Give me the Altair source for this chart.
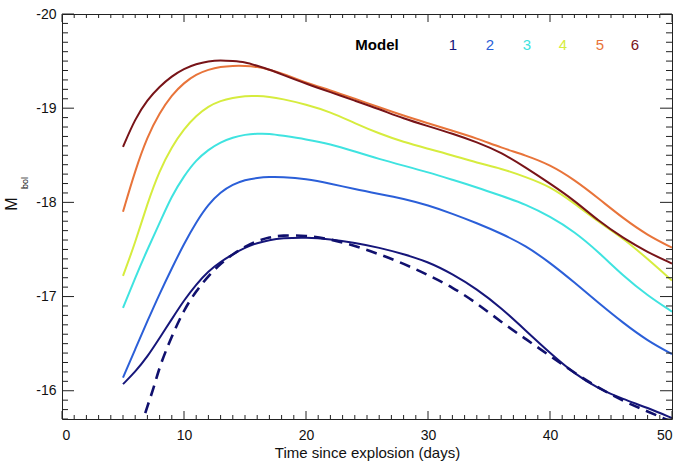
import altair as alt
import pandas as pd
import numpy as np

# ---- data ----
days = [5, 6, 7, 8, 9, 10, 11, 12, 13, 14, 15, 16, 17, 18, 20, 22, 24, 26, 28, 30,
        32, 34, 36, 38, 40, 42, 44, 46, 48, 50]
model1 = [-16.07, -16.20, -16.36, -16.56, -16.76, -16.96, -17.13, -17.27, -17.37, -17.45,
          -17.52, -17.57, -17.60, -17.62, -17.63, -17.61, -17.57, -17.52, -17.45, -17.37,
          -17.24, -17.08, -16.88, -16.64, -16.40, -16.18, -16.02, -15.91, -15.82, -15.71]
model2 = [-16.14, -16.44, -16.74, -17.03, -17.30, -17.56, -17.79, -17.98, -18.11, -18.19,
          -18.24, -18.26, -18.27, -18.27, -18.25, -18.20, -18.14, -18.09, -18.04, -17.97,
          -17.88, -17.78, -17.67, -17.54, -17.36, -17.15, -16.93, -16.72, -16.53, -16.39]
model3 = [-16.88, -17.20, -17.50, -17.78, -18.07, -18.28, -18.45, -18.56, -18.64, -18.69,
          -18.72, -18.73, -18.73, -18.71, -18.67, -18.62, -18.54, -18.46, -18.39, -18.32,
          -18.24, -18.16, -18.07, -17.98, -17.85, -17.69, -17.47, -17.22, -17.01, -16.84]
model4 = [-17.22, -17.57, -17.99, -18.34, -18.59, -18.78, -18.92, -19.02, -19.08, -19.11,
          -19.13, -19.13, -19.12, -19.10, -19.04, -18.96, -18.84, -18.73, -18.64, -18.57,
          -18.50, -18.42, -18.36, -18.27, -18.17, -17.99, -17.79, -17.62, -17.40, -17.17]
model5 = [-17.90, -18.34, -18.70, -18.95, -19.14, -19.27, -19.36, -19.41, -19.44, -19.45,
          -19.45, -19.44, -19.41, -19.37, -19.27, -19.19, -19.10, -19.01, -18.92, -18.84,
          -18.76, -18.68, -18.58, -18.50, -18.40, -18.24, -18.04, -17.83, -17.65, -17.52]
model6 = [-18.59, -18.89, -19.09, -19.23, -19.34, -19.42, -19.47, -19.50, -19.51, -19.50,
          -19.49, -19.45, -19.41, -19.36, -19.26, -19.17, -19.08, -18.99, -18.89, -18.81,
          -18.73, -18.64, -18.53, -18.37, -18.20, -18.02, -17.80, -17.62, -17.47, -17.35]

obs_days = [6.4, 7, 7.5, 8, 9, 10, 11, 12, 13, 14, 15, 16, 17, 18, 20, 22, 24, 26, 28, 30,
            32, 34, 36, 38, 40, 42, 44, 46, 48, 50]
obs_mag = [-15.58, -15.84, -16.02, -16.26, -16.58, -16.86, -17.06, -17.22, -17.35, -17.45,
           -17.53, -17.59, -17.63, -17.65, -17.65, -17.61, -17.54, -17.45, -17.35, -17.23,
           -17.10, -16.93, -16.73, -16.55, -16.37, -16.19, -16.03, -15.89, -15.78, -15.67]

model_names = ["1", "2", "3", "4", "5", "6"]
model_colors = ["#16167a", "#2b5fd8", "#3fe3e0", "#d6ec3e", "#e8743a", "#781418"]
x_ticks = [0, 10, 20, 30, 40, 50]
y_ticks = [-20, -19, -18, -17, -16]

W, H = 610, 405

rows = []
for name, vals in zip(model_names, [model1, model2, model3, model4, model5, model6]):
    for d, v in zip(days, vals):
        rows.append({"day": d, "mag": v, "model": name})
df = pd.DataFrame(rows)
obs = pd.DataFrame({"day": obs_days, "mag": obs_mag})

FONT = "Liberation Sans"

xscale = alt.Scale(domain=[0, 50], nice=False, zero=False)
yscale = alt.Scale(domain=[-20, -15.7], reverse=True, nice=False, zero=False)
x_axis = alt.Axis(values=x_ticks, title="Time since explosion (days)", domain=False,
                  ticks=False, grid=False, labelFontSize=14, labelPadding=9,
                  labelFont=FONT, labelColor="#111", titleFont=FONT,
                  titleFontSize=15, titleFontWeight="normal", titleColor="#111",
                  titlePadding=3, labelExpr="datum.value + ''")
y_axis = alt.Axis(values=y_ticks, title=None, domain=False, ticks=False, grid=False,
                  labelFontSize=14, labelPadding=6, labelFont=FONT,
                  labelColor="#111", labelExpr="datum.value + ''")

X = lambda: alt.X("day:Q", scale=xscale, axis=x_axis)
Y = lambda: alt.Y("mag:Q", scale=yscale, axis=y_axis)

lines = alt.Chart(df).mark_line(strokeWidth=2, interpolate="basis", clip=True).encode(
    x=X(), y=Y(),
    color=alt.Color("model:N", scale=alt.Scale(domain=model_names, range=model_colors),
                    legend=None),
    detail="model:N",
)

dashed = alt.Chart(obs).mark_line(strokeWidth=2.6, strokeDash=[11, 7], color="#10106e",
                                  interpolate="basis", clip=True).encode(x=X(), y=Y())

# inward ticks (IDL style) on all four sides
xt = pd.DataFrame({"day": np.arange(0, 51, 1)})
xt["major"] = xt["day"] % 10 == 0
yt = pd.DataFrame({"mag": np.round(np.arange(-20.0, -15.65, 0.1), 1)})
yt["major"] = np.isclose(yt["mag"], np.round(yt["mag"]))

def xtick_layer(major, top):
    L = 8 if major else 4
    y0, y1 = (0, L) if top else (H, H - L)
    return alt.Chart(xt[xt["major"] == major]).mark_rule(color="#222", strokeWidth=1).encode(
        x=X(), y=alt.value(y0), y2=alt.value(y1))

def ytick_layer(major, right):
    L = 12 if major else 6
    x0, x1 = (W, W - L) if right else (0, L)
    return alt.Chart(yt[yt["major"] == major]).mark_rule(color="#222", strokeWidth=1).encode(
        y=Y(), x=alt.value(x0), x2=alt.value(x1))

ticks = [xtick_layer(m, t) for m in (True, False) for t in (True, False)] + \
        [ytick_layer(m, r) for m in (True, False) for r in (True, False)]

# y-axis title M_bol (with subscript)
ytitle_m = alt.Chart(pd.DataFrame({"t": ["M"]})).mark_text(
    angle=270, fontSize=16, font=FONT, color="#111", align="center", baseline="middle"
).encode(text="t:N", x=alt.value(-50), y=alt.value(190))
ytitle_sub = alt.Chart(pd.DataFrame({"t": ["bol"]})).mark_text(
    angle=270, fontSize=9, font=FONT, color="#111", align="center", baseline="middle"
).encode(text="t:N", x=alt.value(-37), y=alt.value(169))

# in-plot legend
legend_title = alt.Chart(pd.DataFrame({"t": ["Model"]})).mark_text(
    fontSize=15, fontWeight="bold", font=FONT, color="#000", align="center", baseline="middle"
).encode(text="t:N", x=alt.value(315), y=alt.value(31))
legend_px = [391, 428, 465, 501, 538, 573]
legend_nums = [
    alt.Chart(pd.DataFrame({"t": [n]})).mark_text(
        fontSize=15, font=FONT, align="center", baseline="middle", color=c
    ).encode(text="t:N", x=alt.value(p), y=alt.value(31))
    for n, c, p in zip(model_names, model_colors, legend_px)
]

chart = alt.layer(lines, dashed, *ticks, ytitle_m, ytitle_sub, legend_title, *legend_nums).properties(
    width=W, height=H,
    autosize=alt.AutoSizeParams(type="none"),
    padding={"left": 62, "top": 14, "right": 9, "bottom": 43},
    background="white",
).configure_view(stroke="#222", strokeWidth=1)

chart.save("out.html", embed_options={"renderer": "svg", "actions": False})
